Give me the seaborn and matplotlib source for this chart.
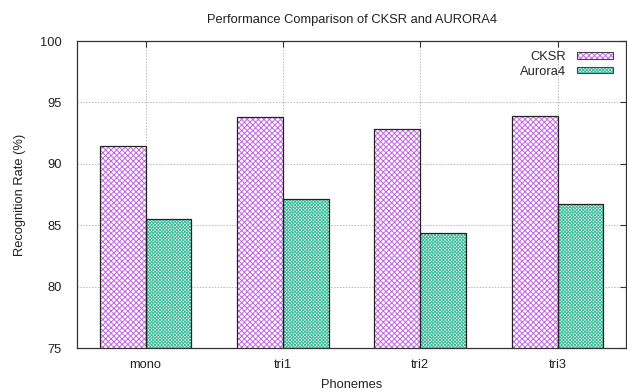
import pandas as pd
import matplotlib
matplotlib.use('Agg')
import matplotlib.pyplot as plt
import seaborn as sns
from matplotlib.patches import Rectangle
from matplotlib.legend_handler import HandlerTuple

# values
phonemes = ['mono', 'tri1', 'tri2', 'tri3']
cksr = [91.45, 93.85, 92.8, 93.9]
aurora4 = [85.5, 87.15, 84.35, 86.75]

df = pd.DataFrame({'phoneme': phonemes * 2,
                   'rate': cksr + aurora4,
                   'system': ['CKSR'] * 4 + ['Aurora4'] * 4})

sns.set_style('white')
plt.rcParams['font.family'] = ['Liberation Sans', 'DejaVu Sans']
plt.rcParams['hatch.linewidth'] = 0.7

hatch_colors = {'CKSR': '#c462e6', 'Aurora4': '#38bb98'}
hatches = {'CKSR': 'xxxxxx', 'Aurora4': 'xxxxxxxxxx'}
fs = 9.3

fig = plt.figure(figsize=(6.27, 3.92), dpi=100)
ax = fig.add_axes([0.1228, 0.1122, 0.876, 0.7832])

sns.barplot(data=df, x='phoneme', y='rate', hue='system',
            palette=hatch_colors, width=0.667, gap=0, dodge=True,
            errorbar=None, ax=ax, legend=False)

ax.grid(True, axis='both', color='#b8b8b8', linestyle=(0, (1.5, 1.5)), linewidth=0.7)
ax.set_axisbelow(True)

# hatch fill on white, then a dark outline over each bar
n = len(phonemes)
for i, p in enumerate(ax.patches[:2 * n]):
    name = 'CKSR' if i < n else 'Aurora4'
    p.set_facecolor('white')
    p.set_edgecolor(hatch_colors[name])
    p.set_hatch(hatches[name])
    p.set_linewidth(0)
    ax.add_patch(Rectangle(p.get_xy(), p.get_width(), p.get_height(),
                           fill=False, edgecolor='#222222', linewidth=0.9,
                           zorder=p.get_zorder() + 0.1))

ax.set_ylim(75, 100)
ax.set_xlim(-0.5, 3.5)
ax.set_yticks([75, 80, 85, 90, 95, 100])

for s in ax.spines.values():
    s.set_color('#333333')
    s.set_linewidth(0.9)

ax.tick_params(axis='both', direction='in', length=4, labelsize=fs,
               top=True, right=True, colors='#333333', labelcolor='#222222')
ax.tick_params(axis='x', pad=8)
ax.tick_params(axis='y', pad=11)

ax.set_title('Performance Comparison of CKSR and AURORA4',
             fontsize=fs, color='#222222', pad=13)
ax.set_xlabel('Phonemes', fontsize=fs, color='#222222', labelpad=6)
ax.set_ylabel('Recognition Rate (%)', fontsize=fs, color='#222222', labelpad=10)

handles = []
for k in ['CKSR', 'Aurora4']:
    fill = Rectangle((0, 0), 1, 1, facecolor='white', edgecolor=hatch_colors[k],
                     hatch=hatches[k], linewidth=0)
    edge = Rectangle((0, 0), 1, 1, fill=False, edgecolor='#444444', linewidth=0.8)
    handles.append((fill, edge))
leg = ax.legend(handles, ['CKSR', 'Aurora4'], loc='upper right', frameon=False,
                markerfirst=False, fontsize=fs, handlelength=2.8, handleheight=0.4,
                bbox_to_anchor=(0.992, 0.997), borderaxespad=0.3,
                labelspacing=0.2, handletextpad=0.8,
                handler_map={tuple: HandlerTuple(ndivide=1, pad=0)})

fig.savefig('out.png', dpi=100)
